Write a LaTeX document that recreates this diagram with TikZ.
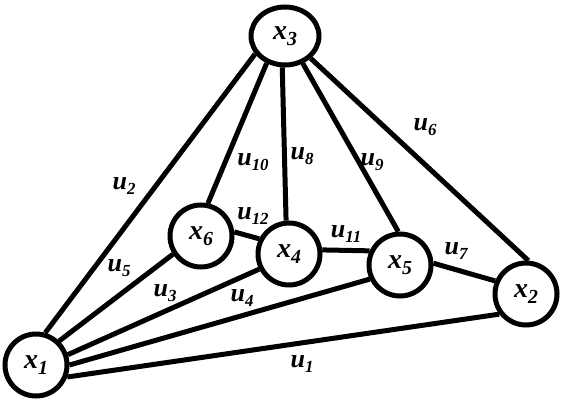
\documentclass[tikz,border=0pt]{standalone}
\usepackage{fontspec}
\setmainfont{Liberation Serif}
\usetikzlibrary{shapes.geometric}
\newcommand{\vlab}[3]{\bfseries\itshape #1\raisebox{-0.22em}{\fontsize{#3em}{1em}\selectfont #2}}
\begin{document}
\begin{tikzpicture}[x=1pt,y=-1pt,
  vert/.style={circle,draw,line width=5pt,minimum size=62pt,inner sep=0pt,fill=white,font=\fontsize{28}{30}\selectfont},
  edge/.style={line width=5pt},
  elab/.style={inner sep=0pt,font=\fontsize{26}{28}\selectfont}]
\useasboundingbox (0,0) rectangle (561,401);
\node[vert,ellipse,minimum width=68pt,minimum height=58pt] (x3) at (285,36) {\vlab{x}{3}{0.71}};
\node[vert] (x1) at (36,365) {\vlab{x}{1}{0.71}};
\node[vert] (x2) at (526,294) {\vlab{x}{2}{0.71}};
\node[vert] (x6) at (201,236) {\vlab{x}{6}{0.71}};
\node[vert] (x4) at (289,254) {\vlab{x}{4}{0.71}};
\node[vert] (x5) at (400,265) {\vlab{x}{5}{0.71}};
\draw[edge] (x1.74) -- (x3.211);
\draw[edge] (x1.46) -- (x6.213);
\draw[edge] (x1.18) -- (x4.207);
\draw[edge] (x1.0) -- (x5.205);
\draw[edge] (x1.-21) -- (x2.217);
\draw[edge] (x3.236) -- (x6.78);
\draw[edge] (x3.265) -- (x4.95);
\draw[edge] (x3.303) -- (x5.93);
\draw[edge] (x3.319) -- (x2.86);
\draw[edge] (x6.7) -- (x4.153);
\draw[edge] (x4.7) -- (x5.155);
\draw[edge] (x5.3) -- (x2.157);
\node[elab] (l2) at (124,186) {\vlab{u}{2}{0.65}};
\node[elab] (l10) at (253,162) {\vlab{u}{10}{0.65}};
\node[elab] (l12) at (253,216) {\vlab{u}{12}{0.65}};
\node[elab] (l5) at (119,268) {\vlab{u}{5}{0.65}};
\node[elab] (l3) at (165,293) {\vlab{u}{3}{0.65}};
\node[elab] (l4) at (242,298) {\vlab{u}{4}{0.65}};
\node[elab] (l8) at (302,156) {\vlab{u}{8}{0.65}};
\node[elab] (l9) at (372,162) {\vlab{u}{9}{0.65}};
\node[elab] (l6) at (425,127) {\vlab{u}{6}{0.65}};
\node[elab] (l11) at (346,234) {\vlab{u}{11}{0.65}};
\node[elab] (l7) at (456,251) {\vlab{u}{7}{0.65}};
\node[elab] (l1) at (302,364) {\vlab{u}{1}{0.65}};
\end{tikzpicture}
\end{document}
